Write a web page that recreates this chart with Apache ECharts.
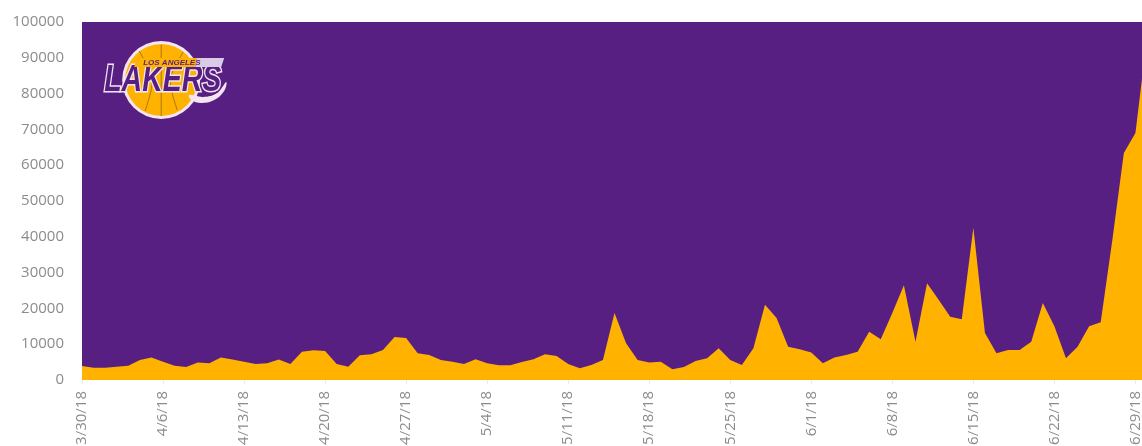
<!DOCTYPE html>
<html>
<head>
<meta charset="utf-8">
<style>html,body{margin:0;padding:0;background:#fff}#c{width:1142px;height:446px}</style>
<script src="https://cdn.jsdelivr.net/npm/echarts@6/dist/echarts.min.js"></script>
</head>
<body>
<div id="c"></div>
<script>
// Daily dates, 3/30/18 through 6/30/18
const dates = [
  '3/30/18','3/31/18','4/1/18','4/2/18','4/3/18','4/4/18','4/5/18','4/6/18','4/7/18','4/8/18','4/9/18','4/10/18','4/11/18','4/12/18','4/13/18',
  '4/14/18','4/15/18','4/16/18','4/17/18','4/18/18','4/19/18','4/20/18','4/21/18','4/22/18','4/23/18','4/24/18','4/25/18','4/26/18','4/27/18','4/28/18',
  '4/29/18','4/30/18','5/1/18','5/2/18','5/3/18','5/4/18','5/5/18','5/6/18','5/7/18','5/8/18','5/9/18','5/10/18','5/11/18','5/12/18','5/13/18',
  '5/14/18','5/15/18','5/16/18','5/17/18','5/18/18','5/19/18','5/20/18','5/21/18','5/22/18','5/23/18','5/24/18','5/25/18','5/26/18','5/27/18','5/28/18',
  '5/29/18','5/30/18','5/31/18','6/1/18','6/2/18','6/3/18','6/4/18','6/5/18','6/6/18','6/7/18','6/8/18','6/9/18','6/10/18','6/11/18','6/12/18',
  '6/13/18','6/14/18','6/15/18','6/16/18','6/17/18','6/18/18','6/19/18','6/20/18','6/21/18','6/22/18','6/23/18','6/24/18','6/25/18','6/26/18','6/27/18',
  '6/28/18','6/29/18','6/30/18'
];

// Daily volume
const volume = [
  3900,3400,3400,3700,4000,5600,6300,5100,4000,3600,4900,4700,6300,5700,5100,
  4500,4700,5700,4500,7900,8300,8100,4500,3700,6900,7200,8400,12000,11700,7500,
  7000,5600,5100,4500,5800,4700,4100,4100,5000,5800,7200,6700,4500,3300,4200,
  5600,18700,10300,5600,4900,5100,3000,3600,5300,6100,8900,5600,4200,8900,21000,
  17300,9300,8600,7700,4700,6300,7000,7900,13500,11400,18700,26500,10700,27000,22400,
  17700,17000,42500,13100,7500,8400,8400,10700,21500,15000,6100,9300,15000,16100,39000,
  63400,69000,95500
];

const yMax = 100000;
const yStep = 10000;

const PURPLE = '#581F83';
const GOLD = '#FFB200';
const CREAM = '#f3e6f2';
const SEAM = '#a8770f';
const TICK_TEXT = '#8c8c8c';
const LOGO_FONT = '"Liberation Sans", sans-serif';

const chart = echarts.init(document.getElementById('c'), null, { renderer: 'canvas' });

const seam = (x1, y1, cx, cy, x2, y2) => ({
  type: 'bezierCurve',
  shape: { x1, y1, x2, y2, cpx1: cx, cpy1: cy, cpx2: cx, cpy2: cy },
  style: { fill: 'none', stroke: SEAM, lineWidth: 1 }
});

chart.setOption({
  animation: false,
  backgroundColor: '#ffffff',
  grid: {
    left: 82, top: 22, bottom: 66, right: -5,
    outerBoundsMode: 'none',
    show: true, backgroundColor: PURPLE, borderWidth: 0
  },
  xAxis: {
    type: 'category',
    boundaryGap: false,
    data: dates,
    axisLine: { show: false },
    axisTick: { show: true, interval: 6, length: 4, lineStyle: { color: '#ececec' } },
    axisLabel: {
      interval: 6, rotate: 90, margin: 11,
      color: TICK_TEXT, fontFamily: '"Open Sans", sans-serif', fontSize: 15
    }
  },
  yAxis: {
    type: 'value',
    min: 0, max: yMax, interval: yStep,
    axisLine: { show: false },
    axisTick: { show: false },
    splitLine: { show: false },
    axisLabel: {
      margin: 18,
      formatter: (v) => String(v),
      color: TICK_TEXT, fontFamily: '"Open Sans", sans-serif', fontSize: 15
    }
  },
  series: [{
    type: 'line',
    data: volume,
    symbol: 'none',
    lineStyle: { width: 0 },
    areaStyle: { color: GOLD, opacity: 1 },
    z: 3
  }],
  // Team logo in the upper-left of the plot
  graphic: [{
    type: 'group', left: 103, top: 41, z: 10,
    children: [
      { type: 'circle', shape: { cx: 60, cy: 39, r: 39 }, style: { fill: CREAM } },
      { type: 'circle', shape: { cx: 60, cy: 39, r: 36 }, style: { fill: GOLD } },
      seam(38, 10, 54, 38, 44, 70),
      seam(82, 11, 66, 38, 76, 69),
      seam(60, 4, 60, 40, 60, 75),
      { type: 'polygon', shape: { smooth: 0.4, points: [[88,54],[102,56],[116,52],[125,41],[123,50],[113,59],[100,62],[90,59]] },
        style: { fill: CREAM } },
      { type: 'text', x: 3, y: 22, scaleX: 0.95, scaleY: 1.2, style: {
          text: 'LAKERS', fill: PURPLE, stroke: CREAM, lineWidth: 2.5,
          font: 'italic bold 30px ' + LOGO_FONT } },
      { type: 'polygon', shape: { points: [[36,17],[96,17],[94,26],[33,26]] },
        style: { fill: GOLD } },
      { type: 'polygon', shape: { points: [[96,17],[123,17],[120,26],[94,26]] },
        style: { fill: '#d9cbe6' } },
      { type: 'text', x: 42, y: 17.5, style: {
          text: 'LOS ANGELES', fill: PURPLE,
          font: 'italic bold 8px ' + LOGO_FONT } }
    ]
  }]
});
</script>
</body>
</html>
